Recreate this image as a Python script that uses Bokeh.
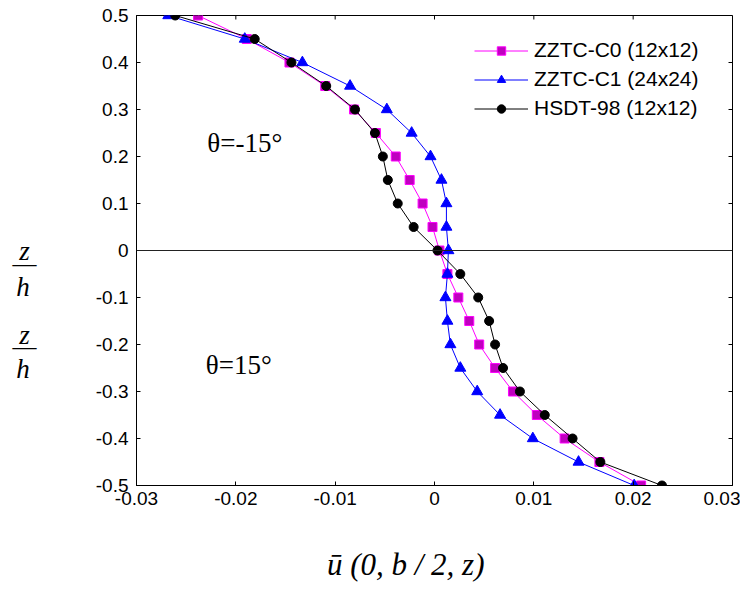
from bokeh.plotting import figure
from bokeh.models import (Legend, LegendItem, Label, Span, LinearAxis, FixedTicker, Range1d,
                          AllLabels)
from bokeh.embed import file_html
from bokeh.resources import INLINE

# ---- data ----
z_vals = [0.5, 0.45, 0.4, 0.35, 0.3, 0.25, 0.2, 0.15, 0.1, 0.05, 0.0,
          -0.05, -0.1, -0.15, -0.2, -0.25, -0.3, -0.35, -0.4, -0.45, -0.5]
zztc_c0 = [-0.0238, -0.0189, -0.0146, -0.0110, -0.0081, -0.0059, -0.0039, -0.0025, -0.0012, -0.0002, 0.0005,
           0.0013, 0.0024, 0.0035, 0.0045, 0.0061, 0.0079, 0.0103, 0.0131, 0.0166, 0.0208]
zztc_c1 = [-0.0268, -0.0191, -0.0133, -0.0085, -0.0048, -0.0023, -0.0004, 0.0007, 0.0012, 0.0012, 0.0014,
           0.0013, 0.0011, 0.0013, 0.0016, 0.0026, 0.0043, 0.0066, 0.0099, 0.0145, 0.0201]
hsdt_98 = [-0.0261, -0.0181, -0.0144, -0.0109, -0.0080, -0.0060, -0.0052, -0.0047, -0.0037, -0.0021, 0.0003,
           0.0026, 0.0044, 0.0055, 0.0061, 0.0069, 0.0086, 0.0111, 0.0139, 0.0167, 0.0229]
series_names = ["ZZTC-C0 (12x12)", "ZZTC-C1 (24x24)", "HSDT-98 (12x12)"]
x_ticks = [-0.03, -0.02, -0.01, 0.0, 0.01, 0.02, 0.03]
x_tick_labels = ["-0.03", "-0.02", "-0.01", "0", "0.01", "0.02", "0.03"]
y_ticks = [-0.5, -0.4, -0.3, -0.2, -0.1, 0.0, 0.1, 0.2, 0.3, 0.4, 0.5]
y_tick_labels = ["-0.5", "-0.4", "-0.3", "-0.2", "-0.1", "0", "0.1", "0.2", "0.3", "0.4", "0.5"]
x_title = "ū (0, b / 2, z)"
y_title_parts = ["z\u2005", "—", "h\u2005", "z\u2005", "—", "h\u2005"]

SANS = "Liberation Sans"
SERIF = "Liberation Serif"

p = figure(width=740, height=595, x_range=Range1d(-0.03, 0.03), y_range=Range1d(-0.5, 0.5),
           output_backend="svg", toolbar_location=None,
           min_border_left=136, min_border_right=8, min_border_top=15, min_border_bottom=110)
p.xgrid.visible = False
p.ygrid.visible = False
p.outline_line_color = "black"
p.outline_line_width = 1


def style_axis(ax, ticks, labels):
    ax.ticker = FixedTicker(ticks=ticks)
    ax.major_label_overrides = {t: l for t, l in zip(ticks, labels)}
    ax.minor_tick_line_color = None
    ax.major_tick_in = 4
    ax.major_tick_out = 0
    ax.axis_line_color = "black"
    ax.major_tick_line_color = "black"
    ax.major_label_text_font = SANS
    ax.major_label_text_color = "black"
    ax.major_label_text_font_size = "19px"


style_axis(p.xaxis[0], x_ticks, x_tick_labels)
p.xaxis[0].major_label_standoff = 6
style_axis(p.yaxis[0], y_ticks, y_tick_labels)
p.yaxis[0].major_label_standoff = 8

# inward ticks on the top and right edges of the box
n_x = len(x_ticks)
n_y = len(y_ticks)
p.segment(x0=x_ticks, y0=[0.5] * n_x, x1=x_ticks, y1=[0.5 - 0.0085] * n_x, line_color="black", line_width=1)
p.segment(x0=[0.03] * n_y, y0=y_ticks, x1=[0.03 - 0.0004] * n_y, y1=y_ticks, line_color="black", line_width=1)

p.add_layout(Span(location=0, dimension="width", line_color="#222222", line_width=1))

l0 = p.line(zztc_c0, z_vals, line_color="#FF00FF", line_width=1)
m0 = p.scatter(zztc_c0, z_vals, marker="square", size=9, fill_color="#BF00BF", line_color="#FF00FF")
l1 = p.line(zztc_c1, z_vals, line_color="#0000FF", line_width=1)
m1 = p.scatter(zztc_c1, z_vals, marker="triangle", size=11, fill_color="#0000FF", line_color="#0000FF")
l2 = p.line(hsdt_98, z_vals, line_color="black", line_width=1)
m2 = p.scatter(hsdt_98, z_vals, marker="circle", size=9, fill_color="black", line_color="black")

legend = Legend(items=[LegendItem(label=series_names[0], renderers=[l0, m0]),
                       LegendItem(label=series_names[1], renderers=[l1, m1]),
                       LegendItem(label=series_names[2], renderers=[l2, m2])],
                location=(338, 365), padding=0, spacing=5, margin=0,
                glyph_width=54, glyph_height=21, label_height=21, label_standoff=6,
                label_text_font=SANS, label_text_font_size="21px", label_text_color="black",
                border_line_alpha=0, background_fill_alpha=0)
p.add_layout(legend)

p.add_layout(Label(x=-0.0191, y=0.228, text="θ=-15°", text_font=SERIF, text_font_size="27px",
                   text_color="black", text_align="center", text_baseline="middle"))
p.add_layout(Label(x=-0.0197, y=-0.244, text="θ=15°", text_font=SERIF, text_font_size="27px",
                   text_color="black", text_align="center", text_baseline="middle"))

# y title: z/h written twice, set as labels of an extra left axis
y_title_pos = [-0.0015, -0.027, -0.078, -0.180, -0.204, -0.253]
ytitle_ax = LinearAxis(ticker=FixedTicker(ticks=y_title_pos),
                       major_label_overrides={t: s for t, s in zip(y_title_pos, y_title_parts)},
                       major_label_policy=AllLabels(),
                       axis_line_color=None, major_tick_line_color=None, minor_tick_line_color=None,
                       major_tick_in=0, major_tick_out=0, major_label_standoff=56,
                       major_label_text_font=SERIF, major_label_text_font_style="italic",
                       major_label_text_font_size="27px", major_label_text_color="black")
p.add_layout(ytitle_ax, "left")

# x title, set as the single label of an extra bottom axis
x_title_pos = [-0.0029]
xtitle_ax = LinearAxis(ticker=FixedTicker(ticks=x_title_pos),
                       major_label_overrides={x_title_pos[0]: x_title},
                       major_label_policy=AllLabels(),
                       axis_line_color=None, major_tick_line_color=None, minor_tick_line_color=None,
                       major_tick_in=0, major_tick_out=0, major_label_standoff=39,
                       major_label_text_font=SERIF, major_label_text_font_style="italic",
                       major_label_text_font_size="31px", major_label_text_color="black")
p.add_layout(xtitle_ax, "below")

open("out.html", "w").write(file_html(p, INLINE))
